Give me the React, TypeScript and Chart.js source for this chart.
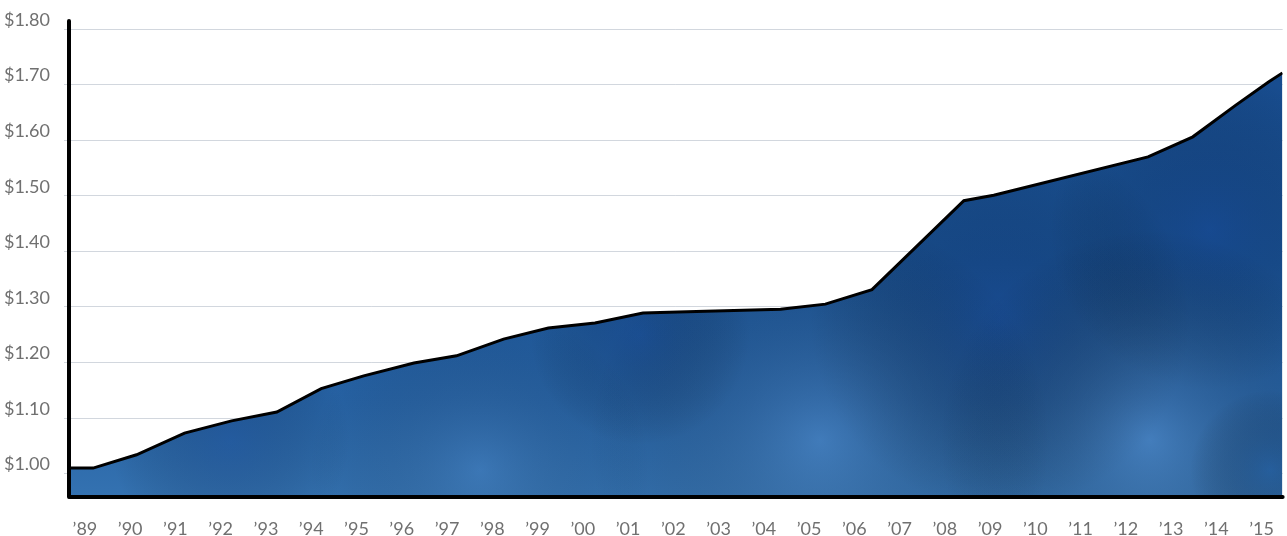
import React, { useEffect, useRef } from "react";
import { Chart, registerables } from "chart.js";

Chart.register(...registerables);

// Data (fractional year, price in $)
const years = [
  1988.63, 1989.18, 1990.14, 1991.2, 1992.24, 1993.24, 1994.22, 1995.16, 1996.27,
  1997.21, 1998.25, 1999.24, 2000.27, 2001.33, 2002.1, 2004.37, 2005.36, 2006.39,
  2008.42, 2009.08, 2012.49, 2013.48, 2014.43, 2015.16, 2015.46,
];
const prices = [
  1.01, 1.01, 1.034, 1.073, 1.095, 1.111, 1.153, 1.176, 1.199,
  1.212, 1.242, 1.262, 1.271, 1.289, 1.291, 1.296, 1.305, 1.331,
  1.491, 1.501, 1.57, 1.606, 1.663, 1.705, 1.721,
];
const tickYears = [
  1989, 1990, 1991, 1992, 1993, 1994, 1995, 1996, 1997, 1998, 1999, 2000, 2001,
  2002, 2003, 2004, 2005, 2006, 2007, 2008, 2009, 2010, 2011, 2012, 2013, 2014, 2015,
];
const tickLabels = [
  "’89", "’90", "’91", "’92", "’93", "’94", "’95", "’96", "’97", "’98", "’99", "’00", "’01",
  "’02", "’03", "’04", "’05", "’06", "’07", "’08", "’09", "’10", "’11", "’12", "’13", "’14", "’15",
];
const yTicks = [1.0, 1.1, 1.2, 1.3, 1.4, 1.5, 1.6, 1.7, 1.8];

// watercolor-like blotches for the fill texture: [x, y, radius, colour]
const blotches: [number, number, number, string][] = [
  [1000, 320, 190, "rgba(16,58,132,0.45)"],
  [1210, 230, 160, "rgba(16,58,132,0.4)"],
  [640, 335, 110, "rgba(16,58,132,0.35)"],
  [230, 440, 120, "rgba(16,58,132,0.3)"],
  [1150, 440, 210, "rgba(95,150,210,0.45)"],
  [820, 440, 230, "rgba(95,150,210,0.4)"],
  [480, 470, 170, "rgba(85,140,200,0.3)"],
  [1270, 470, 80, "rgba(25,85,155,0.4)"],
];

function makeTexture(w: number, h: number) {
  const c = document.createElement("canvas");
  c.width = w;
  c.height = h;
  const g = c.getContext("2d")!;
  const lin = g.createLinearGradient(0, 29, 0, 497);
  lin.addColorStop(0, "#174a8c");
  lin.addColorStop(0.5, "#1b5599");
  lin.addColorStop(0.8, "#2763a5");
  lin.addColorStop(1, "#3472b1");
  g.fillStyle = lin;
  g.fillRect(0, 0, w, h);
  for (const [x, y, r, col] of blotches) {
    const rg = g.createRadialGradient(x, y, 0, x, y, r);
    rg.addColorStop(0, col);
    rg.addColorStop(1, "rgba(0,0,0,0)");
    g.fillStyle = rg;
    g.fillRect(0, 0, w, h);
  }
  return c;
}

const frame = {
  id: "frame",
  afterDraw(chart: any) {
    const { ctx, chartArea } = chart;
    ctx.save();
    ctx.strokeStyle = "#000";
    ctx.lineCap = "round";
    ctx.lineWidth = 4;
    ctx.beginPath();
    ctx.moveTo(chartArea.left + 2, chartArea.bottom);
    ctx.lineTo(chartArea.right, chartArea.bottom);
    ctx.stroke();
    ctx.beginPath();
    ctx.moveTo(chartArea.left + 1, chartArea.bottom);
    ctx.lineTo(chartArea.left + 1, 21);
    ctx.stroke();
    ctx.restore();
  },
};

const FONT = "Lato, 'Open Sans', sans-serif";

export default function App() {
  const ref = useRef<HTMLCanvasElement>(null);
  useEffect(() => {
    const canvas = ref.current!;
    const tex = makeTexture(1287, 536);
    const chart = new Chart(canvas, {
      type: "line",
      data: {
        datasets: [
          {
            data: years.map((x, i) => ({ x, y: prices[i] })),
            borderColor: "#000",
            borderWidth: 3,
            pointRadius: 0,
            tension: 0,
            fill: "start",
            backgroundColor: (c: any) => {
              const p = c.chart.ctx.createPattern(tex, "no-repeat");
              return p || "#1b5599";
            },
          },
        ],
      },
      options: {
        animation: false,
        responsive: true,
        maintainAspectRatio: false,
        layout: { padding: { top: 29, left: 0, right: 0, bottom: 0 } },
        plugins: { legend: { display: false }, tooltip: { enabled: false } },
        scales: {
          x: {
            type: "linear",
            min: 1988.626,
            max: 2015.464,
            afterFit: (s: any) => {
              s.height = 39;
            },
            afterBuildTicks: (s: any) => {
              s.ticks = tickYears.map((v) => ({ value: v }));
            },
            grid: { display: false },
            border: { display: false },
            ticks: {
              autoSkip: false,
              maxRotation: 0,
              padding: 13,
              color: "#707070",
              font: { family: FONT, size: 18 },
              callback: (v: any) => {
                const i = tickYears.indexOf(Math.round(Number(v)));
                return i >= 0 ? tickLabels[i] : "";
              },
            },
          },
          y: {
            min: 0.958,
            max: 1.8,
            z: 1,
            afterFit: (s: any) => {
              s.width = 68;
            },
            afterBuildTicks: (s: any) => {
              s.ticks = yTicks.map((v) => ({ value: v }));
            },
            grid: {
              color: "rgba(165,175,190,0.5)",
              lineWidth: 1,
              drawTicks: true,
              tickLength: 4,
            },
            border: { display: false },
            ticks: {
              padding: 14,
              labelOffset: -9,
              color: "#707070",
              font: { family: FONT, size: 18 },
              callback: (v: any) => "$" + Number(v).toFixed(2),
            },
          },
        },
      },
      plugins: [frame],
    });
    return () => chart.destroy();
  }, []);
  return (
    <div style={{ position: "absolute", left: 0, top: 0, width: 1287, height: 536 }}>
      <canvas ref={ref} />
    </div>
  );
}
